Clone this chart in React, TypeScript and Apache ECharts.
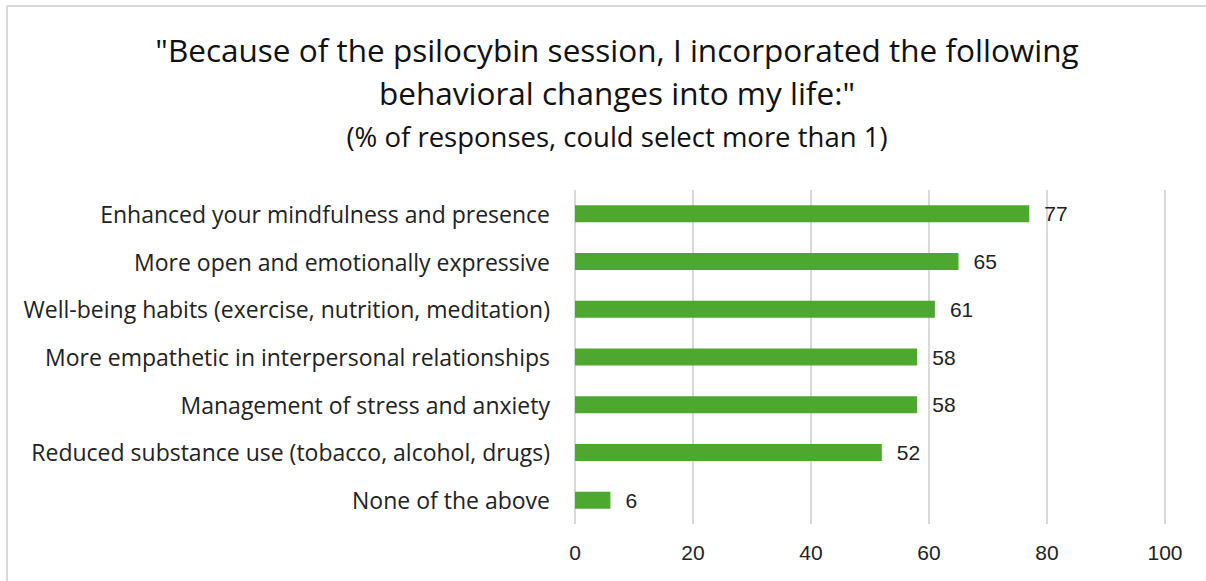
import React, { useEffect, useRef } from "react";
import * as echarts from "echarts";

const titleLines = [
  "\"Because of the psilocybin session, I incorporated the following",
  "behavioral changes into my life:\"",
];
const subtitle = "(% of responses, could select more than 1)";
const categories = [
  "Enhanced your mindfulness and presence",
  "More open and emotionally expressive",
  "Well-being habits (exercise, nutrition, meditation)",
  "More empathetic in interpersonal relationships",
  "Management of stress and anxiety",
  "Reduced substance use (tobacco, alcohol, drugs)",
  "None of the above",
];
const values = [77, 65, 61, 58, 58, 52, 6];
const axisMin = 0;
const axisMax = 100;
const axisStep = 20;

const TEXT_FONT = "'Open Sans', 'Noto Sans', sans-serif";
const NUM_FONT = "'Liberation Sans', Arial, sans-serif";

export default function App() {
  const ref = useRef<HTMLDivElement>(null);
  useEffect(() => {
    if (!ref.current) return;
    const chart = echarts.init(ref.current, null, { renderer: "svg" });
    const cats = [...categories].reverse();
    const vals = [...values].reverse();
    chart.setOption({
      animation: false,
      backgroundColor: "#ffffff",
      title: {
        text: titleLines.join("\n"),
        subtext: subtitle,
        left: 612,
        top: 23,
        textAlign: "center",
        itemGap: 7,
        textStyle: {
          fontFamily: TEXT_FONT,
          fontSize: 31.5,
          fontWeight: "normal",
          color: "#111",
          lineHeight: 43,
        },
        subtextStyle: {
          fontFamily: TEXT_FONT,
          fontSize: 27.5,
          color: "#111",
          lineHeight: 30,
        },
      },
      graphic: [
        {
          type: "line",
          shape: { x1: 7, y1: 6, x2: 1206, y2: 6 },
          style: { stroke: "#d9d9d9", lineWidth: 2 },
        },
        {
          type: "line",
          shape: { x1: 7, y1: 6, x2: 7, y2: 581 },
          style: { stroke: "#d9d9d9", lineWidth: 2 },
        },
      ],
      grid: { left: 575, right: 41, top: 190, bottom: 57, containLabel: false },
      xAxis: {
        type: "value",
        min: axisMin,
        max: axisMax,
        interval: axisStep,
        axisLine: { show: false },
        axisTick: { show: false },
        splitLine: { show: true, lineStyle: { color: "#d9d9d9", width: 2 } },
        axisLabel: {
          fontFamily: NUM_FONT,
          fontSize: 21,
          color: "#222",
          margin: 18,
        },
      },
      yAxis: {
        type: "category",
        data: cats,
        axisLine: { show: false },
        axisTick: { show: false },
        axisLabel: {
          fontFamily: TEXT_FONT,
          fontSize: 23,
          color: "#222",
          margin: 25,
        },
      },
      series: [
        {
          type: "bar",
          data: vals,
          barWidth: 17,
          itemStyle: { color: "#4ea72e" },
          label: {
            show: true,
            position: "right",
            distance: 15,
            fontFamily: NUM_FONT,
            fontSize: 21,
            color: "#222",
          },
        },
      ],
    });
    return () => chart.dispose();
  }, []);
  return (
    <div
      ref={ref}
      style={{ position: "fixed", left: 0, top: 0, width: 1206, height: 581 }}
    />
  );
}
